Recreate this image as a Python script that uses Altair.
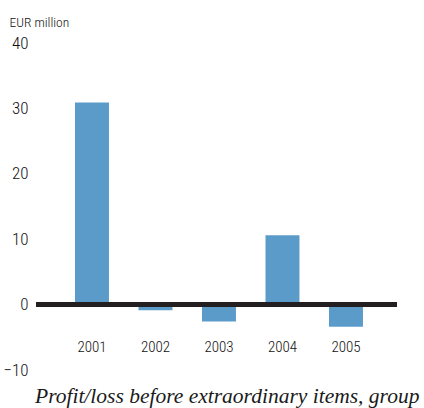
import altair as alt
import pandas as pd

# Profit/loss before extraordinary items, group (EUR million)
years = ["2001", "2002", "2003", "2004", "2005"]
values = [30.9, -0.85, -2.6, 10.6, -3.4]
y_ticks = [-10, 0, 10, 20, 30, 40]

df = pd.DataFrame({"year": years, "value": values})

sans = "Liberation Sans Narrow, Roboto Condensed, DejaVu Sans Condensed, sans-serif"
ink = "#111111"

x_enc = alt.X(
    "year:N",
    sort=years,
    scale=alt.Scale(paddingInner=0.465, paddingOuter=0.575, align=0.534),
    axis=alt.Axis(
        title=None,
        domain=False,
        ticks=False,
        grid=False,
        labelAngle=0,
        labelPadding=0,
        offset=-31,
        labelFont=sans,
        labelFontSize=15,
        labelFontWeight=300,
        labelColor=ink,
    ),
)

y_enc = alt.Y(
    "value:Q",
    scale=alt.Scale(domain=[-10, 40], nice=False, zero=False),
    axis=alt.Axis(
        values=y_ticks,
        domain=False,
        ticks=False,
        grid=False,
        labelPadding=8,
        labelFont=sans,
        labelFontSize=17,
        labelFontWeight=300,
        labelColor=ink,
        title="EUR million",
        titleAngle=0,
        titleAlign="left",
        titleBaseline="alphabetic",
        titleX=-27,
        titleY=-17,
        titleFont=sans,
        titleFontSize=13.5,
        titleFontWeight=300,
        titleColor=ink,
    ),
)

bars = alt.Chart(df).mark_bar(color="#5b9bca").encode(x=x_enc, y=y_enc)

zero_line = alt.Chart(df).mark_rule(color="#231f20", strokeWidth=4.5).encode(
    y=alt.Y(datum=0),
    x=alt.value(0),
    x2=alt.value(361),
)

chart = (
    alt.layer(bars, zero_line)
    .properties(
        width=361,
        height=327,
        padding={"left": 36, "top": 43, "right": 27, "bottom": 38},
        autosize=alt.AutoSizeParams(type="none"),
        view=alt.ViewBackground(stroke="transparent", strokeWidth=0),
        title=alt.TitleParams(
            "Profit/loss before extraordinary items, group",
            orient="bottom",
            anchor="start",
            frame="group",
            dx=-1,
            offset=8,
            font="Liberation Serif, Times New Roman, serif",
            fontStyle="italic",
            fontWeight="normal",
            fontSize=21.5,
            color="#1a1a1a",
        ),
    )
    .configure_view(strokeWidth=0, stroke="transparent")
    .configure_axis(grid=False, domain=False)
    .configure(background="white")
)

chart.save("out.html", embed_options={"renderer": "svg", "actions": False})
